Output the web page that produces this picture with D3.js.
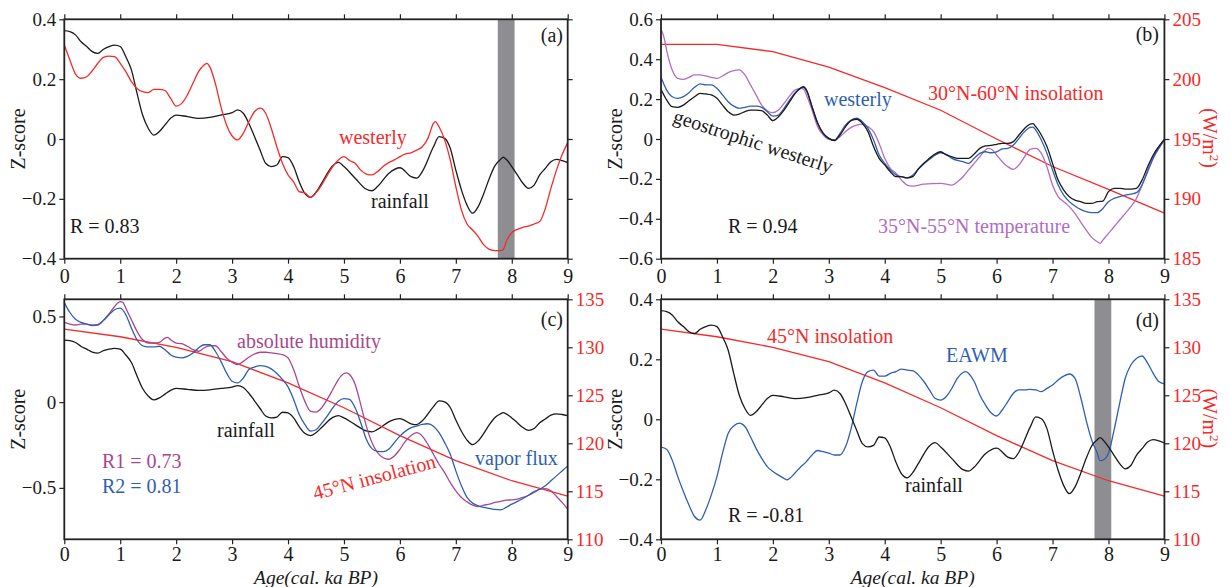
<!DOCTYPE html>
<html>
<head>
<meta charset="utf-8">
<script src="https://cdn.jsdelivr.net/npm/d3@7"></script>
<style>
  body { margin: 0; background: #fff; }
  svg { display: block; }
  svg text { font-family: "Liberation Serif", "Times New Roman", "DejaVu Serif", serif; }
</style>
</head>
<body>
<script>
// Datos: [edad (ka BP), valor]
const ages = d3.range(0, 10, 1);

const rainfall = [[0,0.362],[0.1,0.359],[0.2,0.348],[0.3,0.325],[0.4,0.309],[0.5,0.292],[0.6,0.286],[0.7,0.300],[0.8,0.309],[0.9,0.314],[1.0,0.309],[1.1,0.275],[1.2,0.231],[1.3,0.153],[1.4,0.080],[1.5,0.036],[1.6,0.013],[1.7,0.025],[1.8,0.047],[1.9,0.069],[2.0,0.080],[2.2,0.075],[2.4,0.069],[2.6,0.072],[2.8,0.080],[3.0,0.088],[3.1,0.097],[3.2,0.086],[3.3,0.052],[3.4,0.008],[3.5,-0.037],[3.6,-0.081],[3.7,-0.092],[3.8,-0.087],[3.9,-0.059],[4.0,-0.062],[4.1,-0.092],[4.2,-0.143],[4.3,-0.182],[4.4,-0.195],[4.5,-0.178],[4.6,-0.148],[4.8,-0.089],[4.9,-0.078],[5.0,-0.092],[5.2,-0.131],[5.4,-0.168],[5.5,-0.173],[5.6,-0.159],[5.8,-0.115],[6.0,-0.096],[6.2,-0.126],[6.3,-0.131],[6.4,-0.109],[6.6,-0.026],[6.7,0.008],[6.8,0.002],[6.9,-0.031],[7.0,-0.104],[7.1,-0.170],[7.2,-0.221],[7.3,-0.248],[7.4,-0.226],[7.5,-0.182],[7.6,-0.131],[7.7,-0.089],[7.8,-0.068],[7.85,-0.061],[7.9,-0.068],[8.0,-0.092],[8.1,-0.120],[8.2,-0.148],[8.3,-0.165],[8.4,-0.154],[8.5,-0.120],[8.6,-0.098],[8.7,-0.076],[8.8,-0.068],[8.9,-0.072],[9.0,-0.079]];

const westerlyA = [[0,0.314],[0.1,0.264],[0.2,0.217],[0.3,0.203],[0.4,0.208],[0.5,0.228],[0.6,0.253],[0.7,0.273],[0.8,0.277],[0.9,0.275],[1.0,0.253],[1.1,0.225],[1.2,0.192],[1.3,0.169],[1.4,0.158],[1.5,0.155],[1.6,0.166],[1.7,0.166],[1.8,0.162],[1.9,0.136],[2.0,0.110],[2.1,0.119],[2.2,0.147],[2.3,0.186],[2.4,0.225],[2.5,0.247],[2.55,0.253],[2.6,0.242],[2.7,0.186],[2.8,0.108],[2.9,0.047],[3.0,0.010],[3.1,-0.003],[3.2,0.019],[3.3,0.058],[3.4,0.091],[3.5,0.103],[3.6,0.086],[3.7,0.036],[3.8,-0.026],[3.9,-0.081],[4.0,-0.120],[4.1,-0.143],[4.2,-0.176],[4.3,-0.180],[4.4,-0.195],[4.5,-0.180],[4.6,-0.154],[4.7,-0.122],[4.8,-0.092],[4.9,-0.070],[5.0,-0.059],[5.1,-0.072],[5.2,-0.081],[5.3,-0.104],[5.4,-0.117],[5.5,-0.120],[5.6,-0.109],[5.7,-0.092],[5.8,-0.079],[5.9,-0.070],[6.0,-0.059],[6.1,-0.050],[6.2,-0.046],[6.3,-0.037],[6.4,-0.026],[6.5,0.002],[6.6,0.052],[6.63,0.058],[6.7,0.041],[6.8,-0.003],[6.9,-0.070],[7.0,-0.159],[7.1,-0.237],[7.2,-0.284],[7.3,-0.304],[7.4,-0.326],[7.5,-0.354],[7.6,-0.369],[7.7,-0.373],[7.8,-0.373],[7.85,-0.369],[7.9,-0.343],[8.0,-0.313],[8.1,-0.302],[8.2,-0.295],[8.3,-0.291],[8.4,-0.284],[8.5,-0.276],[8.6,-0.232],[8.7,-0.165],[8.8,-0.104],[8.9,-0.053],[9.0,-0.012]];

const geoWesterly = [[0,0.249],[0.1,0.196],[0.2,0.162],[0.3,0.159],[0.4,0.170],[0.5,0.192],[0.6,0.212],[0.7,0.229],[0.8,0.226],[0.9,0.221],[1.0,0.204],[1.1,0.170],[1.2,0.137],[1.3,0.120],[1.4,0.125],[1.5,0.137],[1.6,0.145],[1.7,0.145],[1.8,0.142],[1.9,0.120],[2.0,0.092],[2.1,0.112],[2.2,0.145],[2.3,0.187],[2.4,0.229],[2.5,0.257],[2.55,0.262],[2.6,0.246],[2.7,0.162],[2.8,0.079],[2.9,0.028],[3.0,0.003],[3.1,-0.008],[3.2,0.020],[3.3,0.062],[3.4,0.092],[3.5,0.099],[3.6,0.079],[3.7,0.037],[3.8,-0.038],[3.9,-0.097],[4.0,-0.130],[4.1,-0.164],[4.2,-0.189],[4.3,-0.189],[4.4,-0.195],[4.5,-0.189],[4.6,-0.150],[4.8,-0.097],[4.9,-0.075],[5.0,-0.064],[5.1,-0.080],[5.2,-0.089],[5.3,-0.097],[5.4,-0.097],[5.5,-0.097],[5.6,-0.075],[5.7,-0.047],[5.8,-0.035],[5.9,-0.032],[6.0,-0.027],[6.1,-0.022],[6.2,-0.022],[6.3,-0.013],[6.4,0.020],[6.5,0.053],[6.6,0.075],[6.65,0.077],[6.7,0.062],[6.8,0.020],[6.9,-0.038],[7.0,-0.122],[7.1,-0.206],[7.2,-0.256],[7.3,-0.289],[7.4,-0.306],[7.5,-0.314],[7.6,-0.323],[7.7,-0.323],[7.8,-0.314],[7.9,-0.311],[8.0,-0.264],[8.1,-0.247],[8.2,-0.247],[8.3,-0.251],[8.4,-0.251],[8.5,-0.247],[8.6,-0.206],[8.7,-0.139],[8.8,-0.080],[8.9,-0.038],[9.0,-0.002]];

const westerlyB = [[0,0.309],[0.1,0.246],[0.2,0.212],[0.3,0.204],[0.4,0.212],[0.5,0.232],[0.6,0.259],[0.7,0.276],[0.8,0.271],[0.9,0.271],[1.0,0.254],[1.1,0.221],[1.2,0.187],[1.3,0.165],[1.4,0.154],[1.5,0.159],[1.6,0.165],[1.7,0.165],[1.8,0.159],[1.9,0.137],[2.0,0.115],[2.1,0.120],[2.2,0.154],[2.3,0.196],[2.4,0.232],[2.5,0.254],[2.55,0.259],[2.6,0.242],[2.7,0.162],[2.8,0.082],[2.9,0.028],[3.0,0.003],[3.1,-0.005],[3.2,0.028],[3.3,0.070],[3.4,0.095],[3.5,0.104],[3.6,0.087],[3.7,0.053],[3.8,-0.005],[3.9,-0.080],[4.0,-0.122],[4.1,-0.155],[4.2,-0.180],[4.3,-0.189],[4.4,-0.195],[4.5,-0.182],[4.6,-0.152],[4.8,-0.102],[5.0,-0.069],[5.1,-0.077],[5.2,-0.097],[5.4,-0.114],[5.5,-0.122],[5.6,-0.097],[5.7,-0.072],[5.8,-0.064],[5.9,-0.069],[6.0,-0.064],[6.1,-0.050],[6.2,-0.047],[6.3,-0.030],[6.4,0.003],[6.5,0.037],[6.6,0.058],[6.65,0.060],[6.7,0.045],[6.8,-0.005],[6.9,-0.072],[7.0,-0.155],[7.1,-0.231],[7.2,-0.281],[7.3,-0.314],[7.4,-0.336],[7.5,-0.353],[7.6,-0.364],[7.7,-0.369],[7.8,-0.369],[7.9,-0.348],[8.0,-0.314],[8.1,-0.298],[8.2,-0.289],[8.3,-0.281],[8.4,-0.276],[8.5,-0.269],[8.6,-0.231],[8.7,-0.164],[8.8,-0.097],[8.9,-0.047],[9.0,-0.005]];

const temperature = [[0,0.550],[0.05,0.513],[0.1,0.446],[0.2,0.346],[0.3,0.304],[0.4,0.299],[0.5,0.309],[0.6,0.321],[0.7,0.321],[0.8,0.316],[0.9,0.309],[1.0,0.304],[1.1,0.316],[1.2,0.333],[1.3,0.343],[1.4,0.346],[1.5,0.321],[1.6,0.271],[1.7,0.221],[1.8,0.170],[1.9,0.142],[2.0,0.132],[2.1,0.145],[2.2,0.179],[2.3,0.216],[2.4,0.246],[2.5,0.254],[2.55,0.249],[2.6,0.221],[2.7,0.145],[2.8,0.062],[2.9,0.020],[3.0,-0.002],[3.1,-0.005],[3.2,0.012],[3.3,0.037],[3.4,0.058],[3.5,0.070],[3.6,0.075],[3.7,0.062],[3.8,0.037],[3.9,-0.022],[4.0,-0.097],[4.1,-0.147],[4.2,-0.172],[4.3,-0.206],[4.4,-0.231],[4.5,-0.236],[4.7,-0.226],[5.0,-0.222],[5.2,-0.231],[5.3,-0.214],[5.4,-0.189],[5.5,-0.155],[5.6,-0.122],[5.7,-0.089],[5.8,-0.055],[5.85,-0.047],[5.9,-0.050],[6.0,-0.080],[6.1,-0.114],[6.2,-0.139],[6.3,-0.152],[6.4,-0.130],[6.5,-0.089],[6.6,-0.052],[6.7,-0.047],[6.8,-0.072],[6.9,-0.139],[7.0,-0.231],[7.1,-0.289],[7.2,-0.314],[7.3,-0.339],[7.4,-0.373],[7.5,-0.415],[7.6,-0.456],[7.7,-0.493],[7.8,-0.515],[7.85,-0.523],[7.9,-0.507],[8.0,-0.473],[8.1,-0.440],[8.2,-0.406],[8.3,-0.373],[8.4,-0.339],[8.5,-0.298],[8.6,-0.231],[8.7,-0.155],[8.8,-0.089],[8.9,-0.038],[9.0,-0.002]];

const humidity = [[0,0.465],[0.1,0.455],[0.2,0.450],[0.3,0.455],[0.4,0.455],[0.5,0.450],[0.6,0.450],[0.7,0.477],[0.8,0.516],[0.9,0.558],[1.0,0.587],[1.05,0.581],[1.1,0.548],[1.2,0.481],[1.3,0.413],[1.4,0.364],[1.5,0.345],[1.6,0.345],[1.7,0.349],[1.8,0.374],[1.85,0.378],[1.9,0.364],[2.0,0.345],[2.1,0.341],[2.2,0.326],[2.3,0.306],[2.4,0.297],[2.5,0.316],[2.6,0.329],[2.7,0.329],[2.8,0.297],[2.9,0.258],[3.0,0.233],[3.1,0.219],[3.2,0.238],[3.3,0.262],[3.4,0.281],[3.5,0.291],[3.6,0.291],[3.7,0.287],[3.8,0.283],[3.9,0.277],[4.0,0.258],[4.1,0.190],[4.2,0.093],[4.3,0.006],[4.4,-0.052],[4.5,-0.058],[4.6,-0.033],[4.7,0.016],[4.8,0.074],[4.9,0.132],[5.0,0.167],[5.05,0.171],[5.1,0.161],[5.2,0.103],[5.3,-0.014],[5.4,-0.140],[5.5,-0.236],[5.6,-0.295],[5.7,-0.324],[5.8,-0.333],[5.9,-0.314],[6.0,-0.275],[6.1,-0.227],[6.2,-0.194],[6.3,-0.178],[6.4,-0.198],[6.5,-0.246],[6.6,-0.304],[6.7,-0.362],[6.8,-0.411],[6.9,-0.469],[7.0,-0.517],[7.1,-0.556],[7.2,-0.581],[7.3,-0.601],[7.4,-0.609],[7.5,-0.601],[7.6,-0.595],[7.7,-0.585],[7.8,-0.579],[7.9,-0.572],[8.0,-0.570],[8.1,-0.566],[8.2,-0.556],[8.3,-0.543],[8.4,-0.527],[8.5,-0.508],[8.6,-0.504],[8.7,-0.517],[8.8,-0.550],[8.9,-0.585],[9.0,-0.624]];

const vaporFlux = [[0,0.581],[0.1,0.523],[0.2,0.484],[0.3,0.465],[0.4,0.455],[0.5,0.446],[0.6,0.452],[0.7,0.477],[0.8,0.510],[0.9,0.539],[1.0,0.548],[1.1,0.510],[1.2,0.432],[1.3,0.364],[1.4,0.329],[1.5,0.322],[1.6,0.322],[1.7,0.326],[1.8,0.306],[1.9,0.277],[2.0,0.262],[2.1,0.258],[2.2,0.267],[2.3,0.287],[2.4,0.316],[2.5,0.335],[2.6,0.335],[2.7,0.297],[2.8,0.238],[2.9,0.171],[3.0,0.122],[3.1,0.112],[3.2,0.141],[3.3,0.190],[3.4,0.205],[3.5,0.213],[3.6,0.209],[3.7,0.194],[3.8,0.167],[3.9,0.132],[4.0,0.089],[4.1,0.016],[4.2,-0.072],[4.3,-0.130],[4.4,-0.169],[4.5,-0.161],[4.6,-0.124],[4.7,-0.081],[4.8,-0.033],[4.9,0.006],[5.0,0.021],[5.1,0.016],[5.2,-0.033],[5.3,-0.120],[5.4,-0.217],[5.5,-0.271],[5.6,-0.287],[5.7,-0.289],[5.8,-0.275],[5.9,-0.236],[6.0,-0.198],[6.1,-0.169],[6.2,-0.149],[6.3,-0.140],[6.4,-0.130],[6.5,-0.126],[6.6,-0.140],[6.7,-0.178],[6.8,-0.236],[6.9,-0.304],[7.0,-0.401],[7.1,-0.488],[7.2,-0.556],[7.3,-0.589],[7.4,-0.605],[7.5,-0.614],[7.6,-0.620],[7.7,-0.626],[7.8,-0.628],[7.9,-0.614],[8.0,-0.595],[8.1,-0.579],[8.2,-0.562],[8.3,-0.543],[8.4,-0.521],[8.5,-0.508],[8.6,-0.488],[8.7,-0.459],[8.8,-0.430],[8.9,-0.401],[9.0,-0.372]];

const eawm = [[0,-0.093],[0.1,-0.100],[0.2,-0.136],[0.3,-0.191],[0.4,-0.241],[0.5,-0.286],[0.6,-0.324],[0.7,-0.336],[0.8,-0.302],[0.9,-0.252],[1.0,-0.191],[1.1,-0.113],[1.2,-0.047],[1.3,-0.022],[1.4,-0.013],[1.45,-0.016],[1.5,-0.024],[1.6,-0.058],[1.7,-0.097],[1.8,-0.130],[1.9,-0.158],[2.0,-0.174],[2.1,-0.186],[2.2,-0.197],[2.25,-0.202],[2.3,-0.197],[2.4,-0.178],[2.5,-0.158],[2.6,-0.141],[2.7,-0.119],[2.8,-0.104],[2.9,-0.108],[3.0,-0.113],[3.1,-0.119],[3.2,-0.119],[3.3,-0.091],[3.4,-0.030],[3.5,0.053],[3.6,0.126],[3.7,0.159],[3.8,0.164],[3.9,0.144],[4.0,0.144],[4.1,0.153],[4.2,0.159],[4.3,0.167],[4.4,0.164],[4.5,0.162],[4.6,0.148],[4.7,0.126],[4.8,0.098],[4.9,0.070],[5.0,0.064],[5.1,0.076],[5.2,0.103],[5.3,0.137],[5.4,0.156],[5.45,0.159],[5.5,0.153],[5.6,0.126],[5.7,0.081],[5.8,0.048],[5.9,0.022],[6.0,0.011],[6.1,0.031],[6.2,0.059],[6.3,0.087],[6.4,0.098],[6.5,0.098],[6.6,0.100],[6.7,0.098],[6.8,0.092],[6.9,0.103],[7.0,0.114],[7.1,0.131],[7.2,0.144],[7.3,0.151],[7.4,0.137],[7.5,0.076],[7.6,-0.002],[7.7,-0.069],[7.8,-0.113],[7.85,-0.138],[7.9,-0.136],[8.0,-0.113],[8.1,-0.036],[8.2,0.053],[8.3,0.137],[8.4,0.181],[8.5,0.203],[8.6,0.211],[8.7,0.187],[8.8,0.153],[8.9,0.126],[9.0,0.118]];

// Insolación (W/m2) en cada ka
const insol3060 = [202.9, 202.9, 202.3, 201.0, 199.3, 197.4, 195.0, 192.7, 190.8, 188.8];
const insol45 = [131.9, 131.1, 130.0, 128.5, 126.3, 123.7, 120.8, 118.2, 116.1, 114.5];

// Evento 8.2 ka (barra gris)
const grayBar = [7.75, 8.05];

// Colores
const RED = "#f52a2a", BLUE = "#2f5fb3", BLACK = "#1a1a1a";
const PURPLE_B = "#b36cc2", PURPLE_C = "#a8478f", GRAY = "#8e8e92";

const svg = d3.select("body").append("svg")
    .attr("width", 1231)
    .attr("height", 587);

const W = 503.4;

function drawPanel(p) {
    const x = d3.scaleLinear().domain([0, 9]).range([p.left, p.left + W]);
    const y = d3.scaleLinear().domain(p.yDomain).range([p.bottom, p.top]);
    const y2 = p.rightDomain ? d3.scaleLinear().domain(p.rightDomain).range([p.bottom, p.top]) : null;
    const g = svg.append("g");

    // Recorte del área del gráfico
    g.append("clipPath").attr("id", "clip-" + p.id)
        .append("rect")
        .attr("x", p.left).attr("y", p.top)
        .attr("width", W).attr("height", p.bottom - p.top);

    const plot = g.append("g").attr("clip-path", "url(#clip-" + p.id + ")");

    if (p.bar) {
        plot.append("rect")
            .attr("x", x(grayBar[0]))
            .attr("width", x(grayBar[1]) - x(grayBar[0]))
            .attr("y", p.top)
            .attr("height", p.bottom - p.top)
            .attr("fill", GRAY);
    }

    const line = d3.line().curve(d3.curveMonotoneX).x(d => x(d[0])).y(d => y(d[1]));
    const line2 = d3.line().x((d, i) => x(ages[i])).y(d => y2(d));

    p.series.forEach(s => {
        plot.append("path")
            .datum(s.data)
            .attr("fill", "none")
            .attr("stroke", s.color)
            .attr("stroke-width", 1.3)
            .attr("d", s.right ? line2 : line);
    });

    // Ejes: marcas mayores y menores
    const fmt = d => d === 0 ? "0" : d3.format(".1f")(d);
    const xMinor = d3.range(0, 9.001, 0.2).filter(v => Math.abs(v - Math.round(v)) > 1e-6);
    const yMinor = d3.range(p.yDomain[0], p.yDomain[1] + 1e-6, p.yMinor);

    const bottom = g.append("g").attr("transform", `translate(0,${p.bottom})`);
    bottom.call(d3.axisBottom(x).tickValues(xMinor).tickSize(3).tickFormat(""));
    bottom.call(d3.axisBottom(x).tickValues(ages).tickSize(5).tickPadding(p.xlabel ? 3 : 5).tickFormat(d3.format("d")));
    bottom.selectAll("text").attr("font-size", 20).attr("fill", BLACK);

    const top = g.append("g").attr("transform", `translate(0,${p.top})`);
    top.call(d3.axisTop(x).tickValues(xMinor).tickSize(3).tickFormat(""));
    top.call(d3.axisTop(x).tickValues(ages).tickSize(5).tickFormat(""));

    const left = g.append("g").attr("transform", `translate(${p.left},0)`);
    left.call(d3.axisLeft(y).tickValues(yMinor).tickSize(3).tickFormat(""));
    left.call(d3.axisLeft(y).tickValues(p.yTicks).tickSize(5).tickPadding(3).tickFormat(fmt));
    left.selectAll("text").attr("font-size", 19).attr("fill", BLACK);

    const right = g.append("g").attr("transform", `translate(${p.left + W},0)`);
    if (y2) {
        right.call(d3.axisRight(y2).tickValues(d3.range(p.rightDomain[0], p.rightDomain[1] + 0.1, 1)).tickSize(3).tickFormat(""));
        right.call(d3.axisRight(y2).tickValues(d3.range(p.rightDomain[0], p.rightDomain[1] + 0.1, 5)).tickSize(5).tickPadding(3));
        right.selectAll("text").attr("font-size", 19).attr("fill", RED);
    } else {
        right.call(d3.axisRight(y).tickValues(yMinor).tickSize(3).tickFormat(""));
        right.call(d3.axisRight(y).tickValues(p.yTicks).tickSize(5).tickFormat(""));
    }
    g.selectAll(".domain").remove();
    g.selectAll(".tick line").attr("stroke", "#222").attr("stroke-width", 1.2);

    // Marco
    g.append("rect")
        .attr("x", p.left).attr("y", p.top)
        .attr("width", W).attr("height", p.bottom - p.top)
        .attr("fill", "none")
        .attr("stroke", "#222")
        .attr("stroke-width", 1.8);

    // Etiqueta del eje Y
    g.append("text")
        .attr("transform", `translate(${p.left - 39},${(p.top + p.bottom) / 2}) rotate(-90)`)
        .attr("text-anchor", "middle")
        .attr("font-size", 20)
        .attr("fill", BLACK)
        .text("Z-score");

    if (p.unitLabel) {
        const t = g.append("text")
            .attr("transform", `translate(${p.left + W + 39},${(p.top + p.bottom) / 2 - 1}) rotate(90)`)
            .attr("text-anchor", "middle")
            .attr("font-size", 20)
            .attr("fill", RED);
        t.append("tspan").text("(W/m");
        t.append("tspan").attr("dy", -7).attr("font-size", 13).text("2");
        t.append("tspan").attr("dy", 7).text(")");
    }

    if (p.xlabel) {
        g.append("text")
            .attr("x", p.left + W / 2)
            .attr("y", p.bottom + 44.5)
            .attr("text-anchor", "middle")
            .attr("font-size", 19.5)
            .attr("font-style", "italic")
            .attr("fill", BLACK)
            .text("Age(cal. ka BP)");
    }

    // Anotaciones
    p.notes.forEach(n => {
        g.append("text")
            .attr("transform", `translate(${n.x},${n.y})` + (n.rot ? ` rotate(${n.rot})` : ""))
            .attr("text-anchor", n.anchor || "start")
            .attr("font-size", 20)
            .attr("fill", n.color)
            .text(n.text);
    });
}

drawPanel({
    id: "a", left: 64.3, top: 19.3, bottom: 258.7,
    yDomain: [-0.4, 0.4], yTicks: [-0.4, -0.2, 0, 0.2, 0.4], yMinor: 0.05,
    bar: true, xlabel: false,
    series: [
        { data: rainfall, color: BLACK },
        { data: westerlyA, color: RED }
    ],
    notes: [
        { text: "(a)", x: 563, y: 42, color: BLACK, anchor: "end" },
        { text: "westerly", x: 339, y: 144, color: RED },
        { text: "rainfall", x: 371, y: 208, color: BLACK },
        { text: "R = 0.83", x: 70, y: 233, color: BLACK }
    ]
});

drawPanel({
    id: "b", left: 661, top: 19.3, bottom: 258.7,
    yDomain: [-0.6, 0.6], yTicks: [-0.6, -0.4, -0.2, 0, 0.2, 0.4, 0.6], yMinor: 0.05,
    rightDomain: [185, 205], unitLabel: true,
    bar: false, xlabel: false,
    series: [
        { data: insol3060, color: RED, right: true },
        { data: temperature, color: PURPLE_B },
        { data: westerlyB, color: BLUE },
        { data: geoWesterly, color: BLACK }
    ],
    notes: [
        { text: "(b)", x: 1159, y: 41, color: BLACK, anchor: "end" },
        { text: "30°N-60°N insolation", x: 928, y: 100, color: RED },
        { text: "westerly", x: 824, y: 106, color: BLUE },
        { text: "geostrophic westerly", x: 672, y: 122, color: BLACK, rot: 18 },
        { text: "R = 0.94", x: 728, y: 233, color: BLACK },
        { text: "35°N-55°N temperature", x: 878, y: 233, color: PURPLE_B }
    ]
});

drawPanel({
    id: "c", left: 64.3, top: 299.3, bottom: 539.3,
    yDomain: [-0.8, 0.6], yTicks: [-0.5, 0, 0.5], yMinor: 0.1,
    rightDomain: [110, 135], unitLabel: false,
    bar: false, xlabel: true,
    series: [
        { data: rainfall, color: BLACK },
        { data: insol45, color: RED, right: true },
        { data: humidity, color: PURPLE_C },
        { data: vaporFlux, color: BLUE }
    ],
    notes: [
        { text: "(c)", x: 563, y: 326, color: BLACK, anchor: "end" },
        { text: "absolute humidity", x: 237, y: 348, color: PURPLE_C },
        { text: "rainfall", x: 217, y: 437, color: BLACK },
        { text: "R1 = 0.73", x: 102, y: 468, color: PURPLE_C },
        { text: "R2 = 0.81", x: 102, y: 493, color: BLUE },
        { text: "vapor flux", x: 475, y: 465, color: BLUE },
        { text: "45°N insolation", x: 315, y: 500, color: RED, rot: -15 }
    ]
});

drawPanel({
    id: "d", left: 661, top: 299.3, bottom: 539.3,
    yDomain: [-0.4, 0.4], yTicks: [-0.4, -0.2, 0, 0.2, 0.4], yMinor: 0.05,
    rightDomain: [110, 135], unitLabel: true,
    bar: true, xlabel: true,
    series: [
        { data: insol45, color: RED, right: true },
        { data: eawm, color: BLUE },
        { data: rainfall, color: BLACK }
    ],
    notes: [
        { text: "(d)", x: 1159, y: 327, color: BLACK, anchor: "end" },
        { text: "45°N insolation", x: 767, y: 343, color: RED },
        { text: "EAWM", x: 946, y: 362, color: BLUE },
        { text: "rainfall", x: 905, y: 492, color: BLACK },
        { text: "R = -0.81", x: 728, y: 522, color: BLACK }
    ]
});
</script>
</body>
</html>
